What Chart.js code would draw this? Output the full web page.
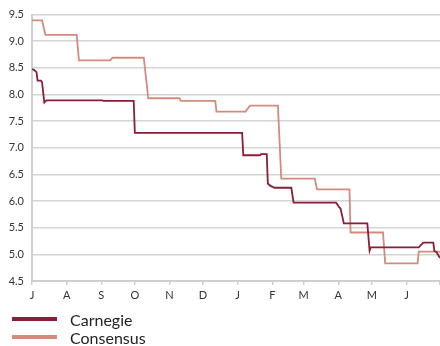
<!DOCTYPE html>
<html>
<head>
<meta charset="utf-8">
<script src="https://cdn.jsdelivr.net/npm/chart.js@4/dist/chart.umd.min.js"></script>
<style>
  html, body { margin: 0; padding: 0; background: #fff; }
  #wrap { position: relative; width: 440px; height: 346px; }
  #c { position: absolute; left: 0; top: 0; }
  .key { position: absolute; left: 0; height: 18px; display: flex; align-items: center;
         font-family: "Lato", "Open Sans", sans-serif; font-size: 16px; color: #222; }
  .key span.sw { display: inline-block; width: 45px; height: 4px; margin-left: 12px; margin-right: 13px; }
</style>
</head>
<body>
<div id="wrap">
  <canvas id="c" width="440" height="346"></canvas>
  <div id="legend"></div>
</div>
<script>
// Month axis (days counted from 1 July)
const monthLabels = ["J", "A", "S", "O", "N", "D", "J", "F", "M", "A", "M", "J", ""];
const monthStartDays = [0, 31, 62, 92, 123, 153, 184, 215, 243, 274, 304, 335, 365];

// Carnegie forecast
const carnegieDays = [0, 2, 4, 5, 8, 9, 11, 13, 63, 64, 91, 92, 188, 189, 204, 205, 210, 211, 213, 217,
  232, 234, 272, 275, 276, 279, 300, 302, 303, 346, 350, 359, 360, 362, 365];
const carnegieValues = [8.48, 8.46, 8.42, 8.26, 8.26, 8.23, 7.85, 7.89, 7.89, 7.88, 7.88, 7.28, 7.28, 6.86,
  6.86, 6.88, 6.88, 6.33, 6.29, 6.25, 6.25, 5.97, 5.97, 5.88, 5.86, 5.58, 5.58, 5.07, 5.13, 5.13,
  5.22, 5.22, 5.06, 5.04, 4.93];

// Consensus forecast
const consensusDays = [0, 9, 12, 40, 42, 70, 72, 100, 104, 132, 133, 164, 165, 191, 195, 220, 223,
  253, 255, 284, 285, 314, 316, 345, 346, 365];
const consensusValues = [9.39, 9.39, 9.12, 9.12, 8.64, 8.64, 8.69, 8.69, 7.93, 7.93, 7.88, 7.88, 7.68,
  7.68, 7.79, 7.79, 6.42, 6.42, 6.22, 6.22, 5.41, 5.41, 4.83, 4.83, 5.05, 5.05];

const seriesNames = ["Carnegie", "Consensus"];
const seriesColors = ["#8c1d36", "#d48a7c"];

const toPoints = (xs, ys) => xs.map((x, i) => ({ x: x, y: ys[i] }));

const tickFont = { family: "Lato, 'Open Sans', sans-serif", size: 11 };

new Chart(document.getElementById("c"), {
  type: "line",
  data: {
    datasets: [
      { label: seriesNames[0], data: toPoints(carnegieDays, carnegieValues),
        borderColor: seriesColors[0], borderWidth: 1.8 },
      { label: seriesNames[1], data: toPoints(consensusDays, consensusValues),
        borderColor: seriesColors[1], borderWidth: 1.8 }
    ]
  },
  options: {
    responsive: false,
    animation: false,
    events: [],
    layout: { autoPadding: false, padding: { top: 14, right: 0, bottom: 41, left: 0 } },
    elements: { point: { radius: 0 }, line: { tension: 0, fill: false } },
    plugins: { legend: { display: false }, tooltip: { enabled: false } },
    scales: {
      x: {
        type: "linear",
        min: 0,
        max: 365,
        afterBuildTicks: (scale) => { scale.ticks = monthStartDays.map(v => ({ value: v })); },
        afterFit: (scale) => {
          // let the plot run to the right edge of the canvas
          scale.height = 24;
          scale.paddingLeft = 0;
          scale.paddingRight = 0;
        },
        ticks: {
          autoSkip: false,
          maxRotation: 0,
          padding: 4,
          color: "#333",
          font: tickFont,
          callback: (v, i) => monthLabels[i]
        },
        grid: { drawOnChartArea: false, drawTicks: true, tickLength: 4, color: "#cfcfcf", lineWidth: 1.5 },
        border: { color: "#cfcfcf", width: 2 }
      },
      y: {
        min: 4.5,
        max: 9.5,
        afterFit: (scale) => { scale.width = 32; },
        ticks: {
          stepSize: 0.5,
          padding: 8,
          color: "#333",
          font: tickFont,
          callback: (v) => v.toFixed(1)
        },
        grid: { drawTicks: false, color: "#d4d4d4", lineWidth: 1.5 },
        border: { color: "#cfcfcf", width: 2 }
      }
    }
  }
});

// Key below the plot
const legend = document.getElementById("legend");
seriesNames.forEach((name, i) => {
  const row = document.createElement("div");
  row.className = "key";
  row.style.top = (310 + i * 18) + "px";
  const sw = document.createElement("span");
  sw.className = "sw";
  sw.style.background = seriesColors[i];
  const label = document.createElement("span");
  label.textContent = name;
  row.appendChild(sw);
  row.appendChild(label);
  legend.appendChild(row);
});
</script>
</body>
</html>
